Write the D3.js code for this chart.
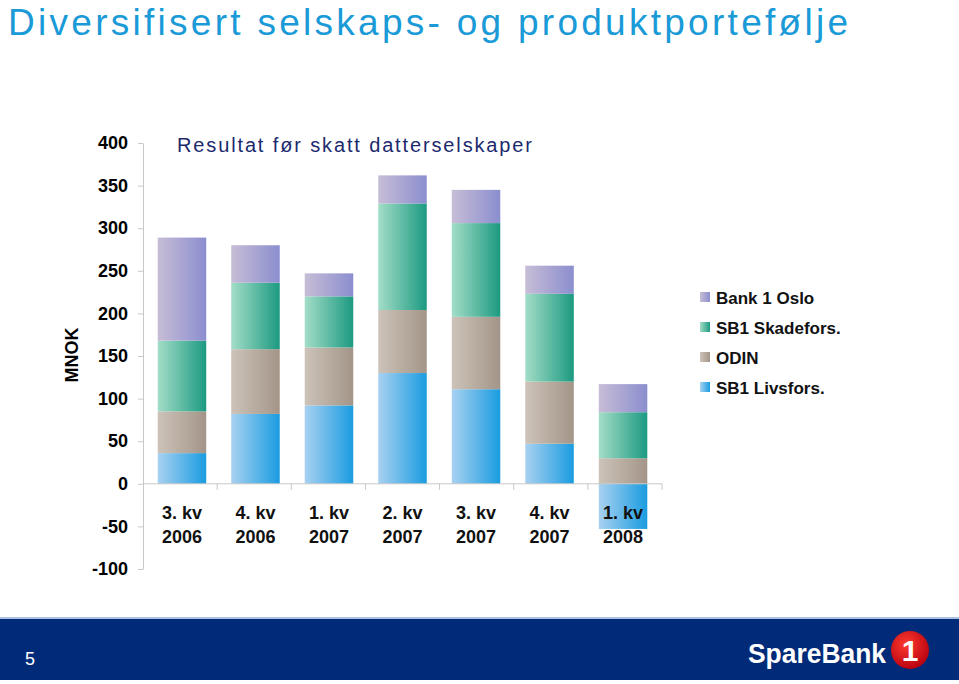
<!DOCTYPE html>
<html>
<head>
<meta charset="utf-8">
<script src="https://cdn.jsdelivr.net/npm/d3@7"></script>
<style>
  html, body { margin: 0; padding: 0; background: #fff; }
  svg { display: block; }
  text { font-family: "Liberation Sans", Arial, Helvetica, sans-serif; }
</style>
</head>
<body>
<svg id="chart" width="959" height="684"></svg>
<script>
// ---------- data ----------
const quarters = ["3. kv", "4. kv", "1. kv", "2. kv", "3. kv", "4. kv", "1. kv"];
const years    = ["2006", "2006", "2007", "2007", "2007", "2007", "2008"];
const sb1Livsfors  = [36, 82, 92, 130, 111, 47, -53];
const odin         = [49, 76, 68, 74, 85, 73, 30];
const sb1Skadefors = [83, 78, 60, 125, 110, 103, 54];
const bank1Oslo    = [121, 44, 27, 33, 39, 33, 33];
const seriesNames  = ["SB1 Livsfors.", "ODIN", "SB1 Skadefors.", "Bank 1 Oslo"];
const yTicks = [-100, -50, 0, 50, 100, 150, 200, 250, 300, 350, 400];

const gradients = {
  "Bank 1 Oslo":    ["#c7bdd6", "#8b8ecf"],
  "SB1 Skadefors.": ["#a3ddc7", "#1c9a81"],
  "ODIN":           ["#cdc3b9", "#a39588"],
  "SB1 Livsfors.":  ["#a8d1f1", "#1a9ce0"]
};

const rows = quarters.map((q, i) => ({
  key: q + " " + years[i],
  q: q, yr: years[i],
  "SB1 Livsfors.": sb1Livsfors[i],
  "ODIN": odin[i],
  "SB1 Skadefors.": sb1Skadefors[i],
  "Bank 1 Oslo": bank1Oslo[i]
}));

const svg = d3.select("#chart");
const defs = svg.append("defs");
seriesNames.forEach((s, i) => {
  const g = defs.append("linearGradient").attr("id", "g" + i)
    .attr("x1", 0).attr("x2", 1).attr("y1", 0).attr("y2", 0);
  g.append("stop").attr("offset", "0%").attr("stop-color", gradients[s][0]);
  g.append("stop").attr("offset", "100%").attr("stop-color", gradients[s][1]);
});
const gid = s => "url(#g" + seriesNames.indexOf(s) + ")";

// ---------- title ----------
svg.append("text").attr("x", 8).attr("y", 35)
  .attr("font-size", 37).attr("fill", "#1a9ad7")
  .attr("textLength", 840).attr("lengthAdjust", "spacing")
  .text("Diversifisert selskaps- og produktportefølje");

svg.append("text").attr("x", 177).attr("y", 152)
  .attr("font-size", 20).attr("fill", "#1b2a6e")
  .attr("textLength", 355).attr("lengthAdjust", "spacing")
  .text("Resultat før skatt datterselskaper");

// ---------- scales ----------
const x = d3.scaleBand().domain(rows.map(d => d.key)).range([143, 662])
  .paddingInner(0.34).paddingOuter(0.2);
const y = d3.scaleLinear().domain([-100, 400]).range([569, 143]);

const stack = d3.stack().keys(seriesNames).offset(d3.stackOffsetDiverging);
const stacked = stack(rows);

// ---------- bars ----------
svg.append("g").selectAll("g").data(stacked).join("g")
  .attr("fill", d => gid(d.key))
  .selectAll("rect").data(d => d).join("rect")
  .attr("x", d => x(d.data.key))
  .attr("width", x.bandwidth())
  .attr("y", d => y(Math.max(d[0], d[1])))
  .attr("height", d => Math.abs(y(d[0]) - y(d[1])));

// ---------- y axis ----------
const yAxis = svg.append("g").attr("transform", "translate(143,0)")
  .call(d3.axisLeft(y).tickValues(yTicks).tickFormat(d => String(d))
    .tickSize(5).tickPadding(10).tickSizeOuter(0));
yAxis.select(".domain").attr("stroke", "#c8c8c8");
yAxis.selectAll(".tick line").attr("stroke", "#c8c8c8");
yAxis.selectAll(".tick text")
  .attr("font-family", "'Liberation Sans', Arial, sans-serif")
  .attr("font-size", 18).attr("font-weight", "bold").attr("fill", "#000");

// ---------- x axis (zero line) ----------
const bounds = d3.range(rows.length + 1).map(i => 143 + i * (519 / rows.length));
const xg = svg.append("g");
xg.append("line").attr("x1", 143).attr("x2", 662)
  .attr("y1", y(0)).attr("y2", y(0)).attr("stroke", "#c8c8c8");
xg.selectAll("line.t").data(bounds.slice(1)).join("line").attr("class", "t")
  .attr("x1", d => d).attr("x2", d => d)
  .attr("y1", y(0)).attr("y2", y(0) + 6).attr("stroke", "#c8c8c8");

const lab = svg.append("g").selectAll("text").data(rows).join("text")
  .attr("text-anchor", "middle").attr("font-size", 18).attr("font-weight", "bold")
  .attr("fill", "#111");
lab.append("tspan").attr("x", d => x(d.key) + x.bandwidth() / 2).attr("y", 519).text(d => d.q);
lab.append("tspan").attr("x", d => x(d.key) + x.bandwidth() / 2).attr("y", 543).text(d => d.yr);

// MNOK
svg.append("text").attr("transform", "translate(78,355) rotate(-90)")
  .attr("text-anchor", "middle").attr("font-size", 18).attr("font-weight", "bold")
  .text("MNOK");

// ---------- legend ----------
const legendOrder = ["Bank 1 Oslo", "SB1 Skadefors.", "ODIN", "SB1 Livsfors."];
const lg = svg.append("g").selectAll("g").data(legendOrder).join("g")
  .attr("transform", (d, i) => `translate(700,${297 + i * 30})`);
lg.append("rect").attr("x", 0).attr("y", -5).attr("width", 10).attr("height", 10)
  .attr("fill", d => gid(d));
lg.append("text").attr("x", 16).attr("y", 6.5).attr("font-size", 17)
  .attr("font-weight", "bold").attr("fill", "#111").text(d => d);

// ---------- footer ----------
svg.append("rect").attr("x", 0).attr("y", 617).attr("width", 959).attr("height", 2).attr("fill", "#a9c1e2");
svg.append("rect").attr("x", 0).attr("y", 619).attr("width", 959).attr("height", 61).attr("fill", "#012a78");
svg.append("text").attr("x", 25).attr("y", 665).attr("font-size", 18).attr("fill", "#fff").text("5");

const logoGrad = defs.append("radialGradient").attr("id", "logoRed").attr("cx", "40%").attr("cy", "35%").attr("r", "70%");
logoGrad.append("stop").attr("offset", "0%").attr("stop-color", "#ff3a2e");
logoGrad.append("stop").attr("offset", "100%").attr("stop-color", "#b5000f");
svg.append("text").attr("x", 748).attr("y", 663).attr("font-size", 27).attr("font-weight", "bold")
  .attr("fill", "#fff").attr("textLength", 138).attr("lengthAdjust", "spacingAndGlyphs")
  .text("SpareBank");
svg.append("circle").attr("cx", 910).attr("cy", 650).attr("r", 19).attr("fill", "url(#logoRed)");
svg.append("text").attr("x", 910).attr("y", 661).attr("text-anchor", "middle")
  .attr("font-size", 30).attr("font-weight", "bold").attr("fill", "#fff").text("1");
</script>
</body>
</html>
